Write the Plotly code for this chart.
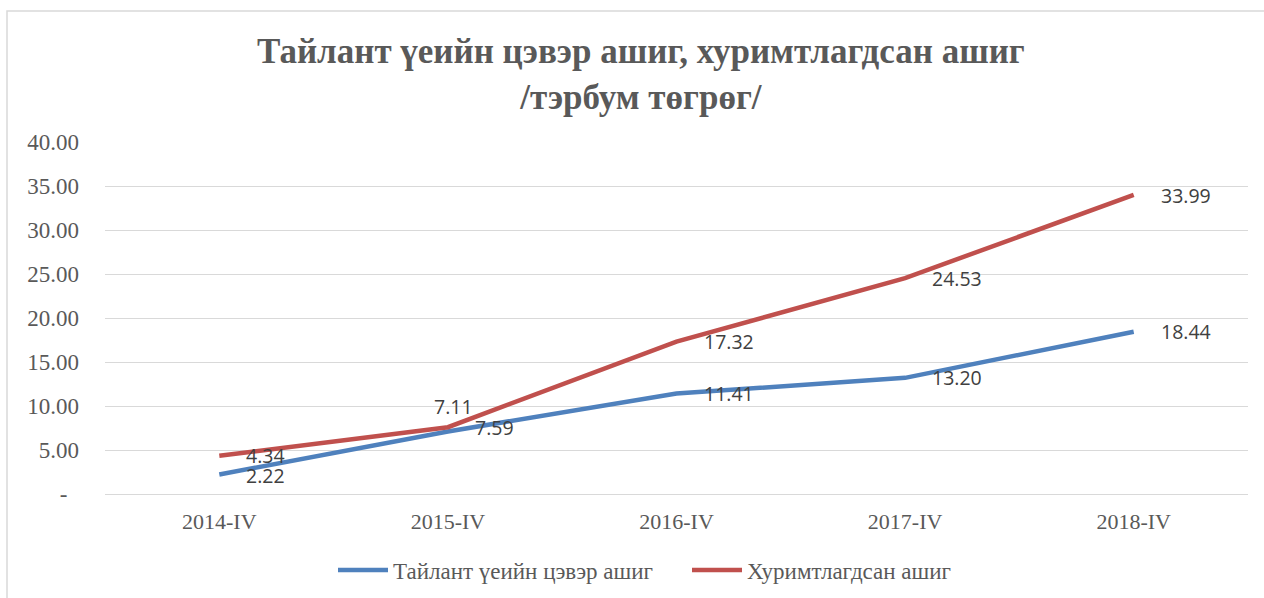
import plotly.graph_objects as go

categories = ["2014-IV", "2015-IV", "2016-IV", "2017-IV", "2018-IV"]
net_profit = [2.22, 7.11, 11.41, 13.20, 18.44]
retained = [4.34, 7.59, 17.32, 24.53, 33.99]
tick_vals = [0, 5, 10, 15, 20, 25, 30, 35, 40]
tick_text = ["-\u00a0\u00a0", "5.00", "10.00", "15.00", "20.00", "25.00", "30.00", "35.00", "40.00"]

name_net = "Тайлант үеийн цэвэр ашиг"
name_ret = "Хуримтлагдсан ашиг"
title_text = "Тайлант үеийн цэвэр ашиг, хуримтлагдсан ашиг<br>/тэрбум төгрөг/"

BLUE = "#4F81BD"
RED = "#C0504D"
GRAY = "#595959"
SERIF = "Liberation Serif, Times New Roman, serif"
SANS = "Open Sans, DejaVu Sans, sans-serif"

fig = go.Figure()
fig.add_trace(go.Scatter(x=categories, y=net_profit, mode="lines", name=name_net,
                         line=dict(color=BLUE, width=4.5)))
fig.add_trace(go.Scatter(x=categories, y=retained, mode="lines", name=name_ret,
                         line=dict(color=RED, width=4.5)))

# label offsets (style): default right of point; special for 2015 net profit
net_offsets = [(25, -1), (-16, 25), (25, 0), (25, 0), (25, 0)]
ret_offsets = [(25, 0), (25, 0), (25, 0), (25, 0), (25, -1)]

annotations = []
for vals, offs in ((net_profit, net_offsets), (retained, ret_offsets)):
    for c, v, (dx, dy) in zip(categories, vals, offs):
        annotations.append(dict(x=c, y=v, text=f"{v:.2f}", showarrow=False,
                                xanchor="left", yanchor="middle",
                                xshift=dx, yshift=dy,
                                font=dict(family=SANS, size=19.5, color="#404040")))

fig.update_layout(
    width=1264, height=598,
    paper_bgcolor="white", plot_bgcolor="white",
    margin=dict(l=105, r=16, t=142, b=104),
    title=dict(text=title_text, x=0.507, xref="container", xanchor="center",
               y=1 - 63 / 598, yanchor="middle",
               font=dict(family=SERIF, size=35, color=GRAY, weight="bold")),
    xaxis=dict(type="category", range=[-0.5, 4.5], showgrid=False, showline=False, ticks="",
               ticklabelstandoff=12,
               tickfont=dict(family=SERIF, size=22, color=GRAY)),
    yaxis=dict(range=[0, 40], tickvals=tick_vals, ticktext=tick_text,
               showgrid=True, gridcolor="#D9D9D9", gridwidth=1.2,
               zeroline=True, zerolinecolor="#D9D9D9", zerolinewidth=1.2,
               showline=False, ticks="", ticklabelstandoff=25,
               tickfont=dict(family=SERIF, size=23, color=GRAY)),
    legend=dict(orientation="h", xref="container", yref="container",
                x=333 / 1264, xanchor="left", y=1 - 570 / 598, yanchor="middle",
                font=dict(family=SERIF, size=23, color=GRAY),
                itemwidth=50, entrywidth=289, entrywidthmode="pixels",
                traceorder="normal"),
    annotations=annotations,
    shapes=[dict(type="rect", xref="paper", yref="paper",
                 x0=(7 - 105) / 1143, x1=(1300 - 105) / 1143,
                 y0=(494 - 640) / 352, y1=(494 - 11) / 352,
                 line=dict(color="#D9D9D9", width=1.5), layer="below")],
)

fig.write_html("out.html", config={"displayModeBar": False},
               post_script="document.body.style.margin='0';document.body.style.overflow='hidden';")
